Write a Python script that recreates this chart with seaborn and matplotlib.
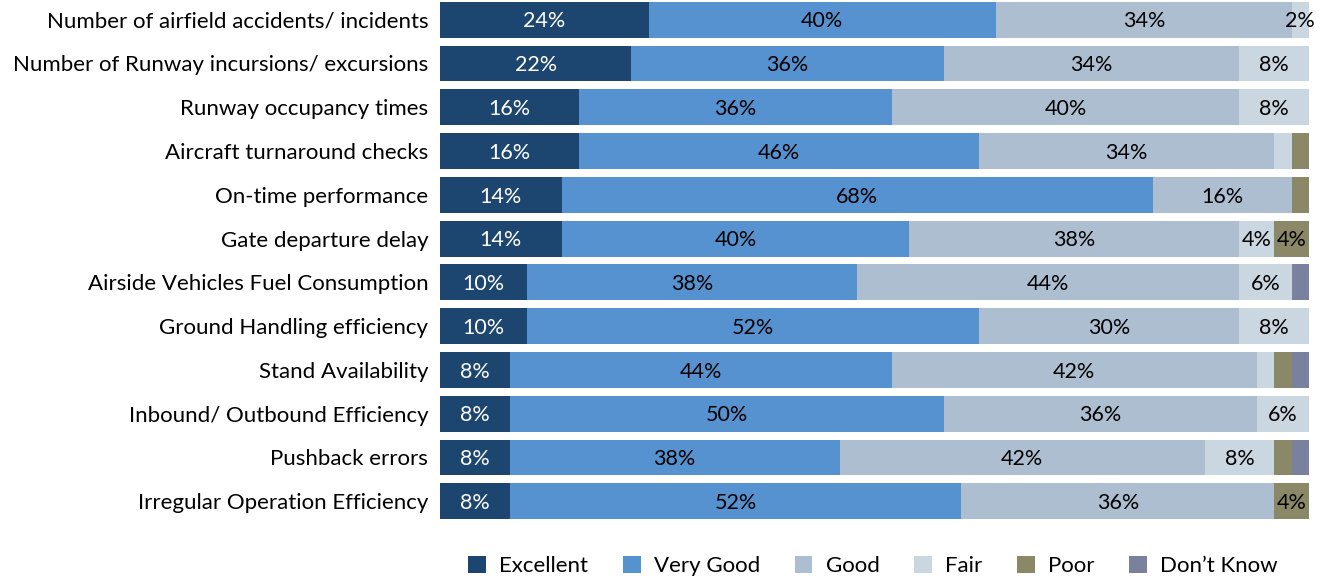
import matplotlib
matplotlib.use("Agg")
import matplotlib.pyplot as plt
import seaborn as sns
import pandas as pd
import numpy as np
from matplotlib.patches import Patch

categories = [
    "Number of airfield accidents/ incidents",
    "Number of Runway incursions/ excursions",
    "Runway occupancy times",
    "Aircraft turnaround checks",
    "On-time performance",
    "Gate departure delay",
    "Airside Vehicles Fuel Consumption",
    "Ground Handling efficiency",
    "Stand Availability",
    "Inbound/ Outbound Efficiency",
    "Pushback errors",
    "Irregular Operation Efficiency",
]
series_names = ["Excellent", "Very Good", "Good", "Fair", "Poor", "Don\u2019t Know"]
excellent = [24, 22, 16, 16, 14, 14, 10, 10, 8, 8, 8, 8]
very_good = [40, 36, 36, 46, 68, 40, 38, 52, 44, 50, 38, 52]
good      = [34, 34, 40, 34, 16, 38, 44, 30, 42, 36, 42, 36]
fair      = [2, 8, 8, 2, 0, 4, 6, 8, 2, 6, 8, 0]
poor      = [0, 0, 0, 2, 2, 4, 0, 0, 2, 0, 2, 4]
dont_know = [0, 0, 0, 0, 0, 0, 2, 0, 2, 0, 2, 0]

colors = ["#1c4570", "#5592cf", "#adbed1", "#cad7e1", "#8b8867", "#7a819f"]
text_colors = ["white", "black", "black", "black", "black", "black"]

font = "Lato"
plt.rcParams["font.family"] = [font, "DejaVu Sans"]

values = np.array([excellent, very_good, good, fair, poor, dont_know], dtype=float)
cum = np.cumsum(values, axis=0)

fig = plt.figure(figsize=(13.29, 5.8), dpi=100)
ax = fig.add_axes([440 / 1329, 1 - 524 / 580, (1309 - 440) / 1329, 524 / 580])

for i in range(len(series_names) - 1, -1, -1):
    df = pd.DataFrame({"category": categories, "value": cum[i]})
    sns.barplot(data=df, y="category", x="value", orient="h", color=colors[i],
                saturation=1, width=0.82, ax=ax, linewidth=0, order=categories)

for i in range(len(series_names)):
    for j in range(len(categories)):
        v = values[i, j]
        show = v >= 4 or (v > 0 and i == 3 and j == 0)
        if not show:
            continue
        center = cum[i, j] - v / 2
        ax.text(center, j + 0.04, f"{int(v)}%", ha="center", va="center",
                color=text_colors[i], fontsize=15.5)

ax.set_xlim(0, 100)
ax.set_ylim(len(categories) - 0.5 + 0.02, -0.45)
ax.set_xlabel("")
ax.set_ylabel("")
ax.set_xticks([])
ax.tick_params(axis="y", length=0, pad=8.5, labelsize=16)
for s in ax.spines.values():
    s.set_visible(False)
ax.set_facecolor("white")

handles = [Patch(facecolor=c, edgecolor="none") for c in colors]
fig.legend(handles, series_names, loc="center", bbox_to_anchor=(873 / 1329, 1 - 566 / 580),
           ncol=6, frameon=False, fontsize=16, handlelength=0.8, handleheight=0.8,
           handletextpad=0.6, columnspacing=1.55)

fig.savefig("out.png", dpi=100, facecolor="white")
